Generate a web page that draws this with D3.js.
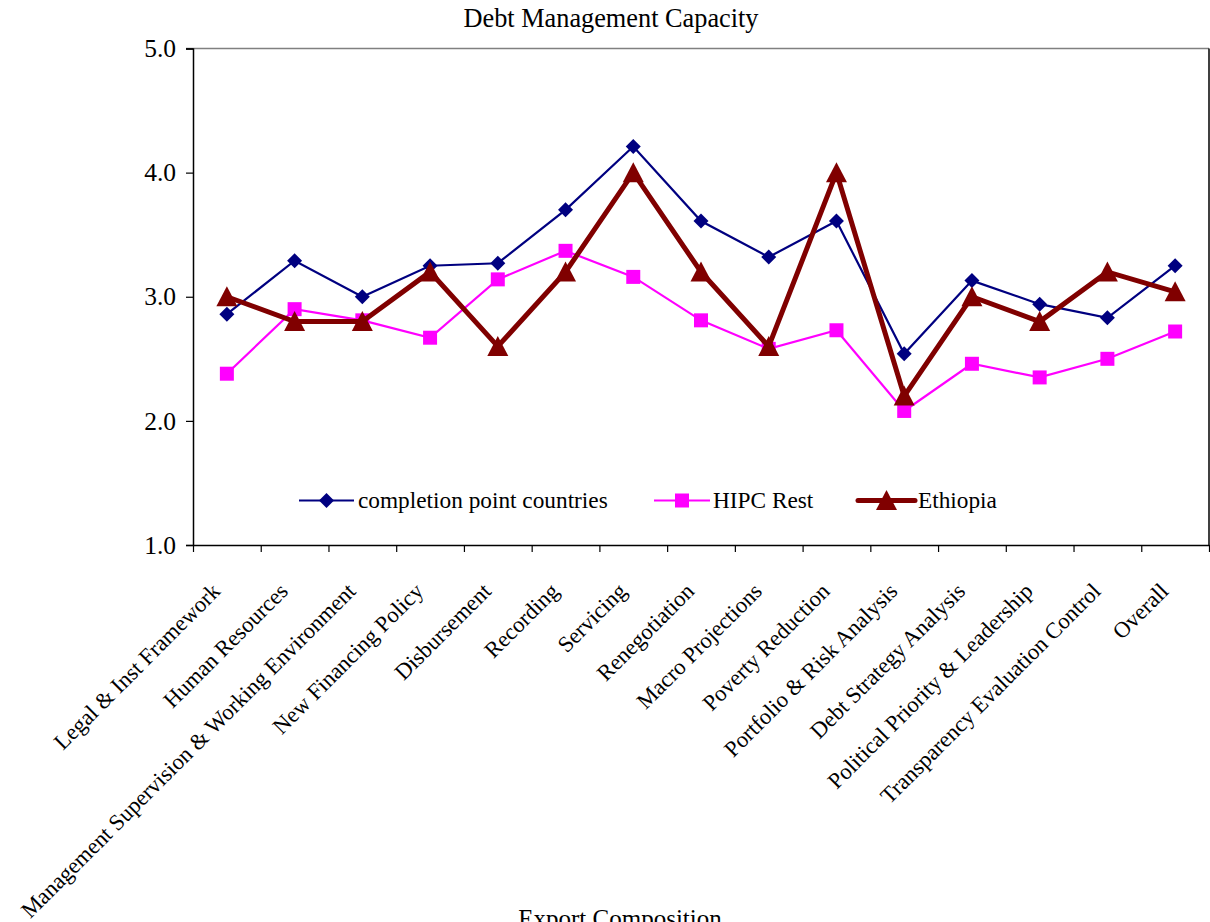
<!DOCTYPE html>
<html>
<head>
<meta charset="utf-8">
<script src="https://cdn.jsdelivr.net/npm/d3@7/dist/d3.min.js"></script>
<style>
  html, body { margin: 0; padding: 0; background: #fff; }
  svg { display: block; }
  text { font-family: "Liberation Serif", "Times New Roman", serif; fill: #000; }
</style>
</head>
<body>
<svg id="chart" width="1210" height="922"></svg>
<script>
const categories = [
  "Legal & Inst Framework", "Human Resources", "Management Supervision & Working Environment",
  "New Financing Policy", "Disbursement", "Recording", "Servicing", "Renegotiation",
  "Macro Projections", "Poverty Reduction", "Portfolio & Risk Analysis",
  "Debt Strategy Analysis", "Political Priority & Leadership",
  "Transparency Evaluation Control", "Overall"
];
const completionPoint = [2.86, 3.29, 3.00, 3.25, 3.27, 3.70, 4.21, 3.61, 3.32, 3.61, 2.54, 3.13, 2.94, 2.83, 3.25];
const hipcRest        = [2.38, 2.90, 2.81, 2.67, 3.14, 3.37, 3.16, 2.81, 2.58, 2.73, 2.08, 2.46, 2.35, 2.50, 2.72];
const ethiopia        = [3.00, 2.80, 2.80, 3.20, 2.60, 3.20, 4.00, 3.20, 2.60, 4.00, 2.20, 3.00, 2.80, 3.20, 3.04];
const yTicks = [1, 2, 3, 4, 5];
const seriesNames = ["completion point countries", "HIPC Rest", "Ethiopia"];

const svg = d3.select("#chart");
const L = 193, R = 1209, T = 48.5, B = 545;

const x = d3.scaleBand().domain(categories).range([L, R]).padding(0);
const xEdge = d3.scaleLinear().domain([0, categories.length]).range([L, R]);
const y = d3.scaleLinear().domain([1, 5]).range([B, T]);
const cx = c => x(c) + x.bandwidth() / 2;

// Plot border (top gray, right black)
svg.append("line").attr("x1", L - 7).attr("x2", R).attr("y1", T).attr("y2", T)
  .attr("stroke", "#808080").attr("stroke-width", 1.5);
svg.append("line").attr("x1", R).attr("x2", R).attr("y1", T).attr("y2", B)
  .attr("stroke", "#000").attr("stroke-width", 1.5);

// Y axis
const yAxis = d3.axisLeft(y).tickValues(yTicks).tickFormat(d3.format(".1f")).tickSize(7).tickPadding(10);
const gy = svg.append("g").attr("transform", `translate(${L},0)`).call(yAxis);
gy.select(".domain").attr("stroke", "#000").attr("stroke-width", 1.5);
gy.selectAll(".tick line").attr("stroke", "#000").attr("stroke-width", 1.2);
gy.selectAll(".tick text").attr("font-size", 25.5).style("font-family", "Liberation Serif").attr("fill", "#000");

// X axis (tick marks at category boundaries)
const xAxis = d3.axisBottom(xEdge).tickValues(d3.range(categories.length + 1)).tickFormat("").tickSize(7).tickSizeOuter(0);
const gx = svg.append("g").attr("transform", `translate(0,${B})`).call(xAxis);
gx.select(".domain").attr("stroke", "#000").attr("stroke-width", 1.5);
gx.selectAll(".tick line").attr("stroke", "#000").attr("stroke-width", 1.2);

// X labels rotated
svg.append("g").selectAll("text").data(categories).join("text")
  .attr("transform", d => `translate(${cx(d) - 11},${B + 42}) rotate(-45)`)
  .attr("text-anchor", "end")
  .attr("dy", "0.35em")
  .attr("font-size", 22.6)
  .text(d => d);

// Title
svg.append("text").attr("x", 611).attr("y", 27).attr("text-anchor", "middle")
  .attr("font-size", 26.3).text("Debt Management Capacity");

// X axis title
svg.append("text").attr("x", 620).attr("y", 927).attr("text-anchor", "middle")
  .attr("font-size", 25).text("Export Composition");

// Markers
const diamondPath = "M0,-7.5L7.5,0L0,7.5L-7.5,0Z";
const squarePath = "M-7,-7L7,-7L7,7L-7,7Z";
const trianglePath = "M0,-10.5L10.5,9.5L-10.5,9.5Z";

const series = [
  { name: seriesNames[0], values: completionPoint, color: "#000080", width: 2.2, marker: diamondPath },
  { name: seriesNames[1], values: hipcRest, color: "#FF00FF", width: 2.2, marker: squarePath },
  { name: seriesNames[2], values: ethiopia, color: "#800000", width: 5, marker: trianglePath }
];

const line = d3.line().x((d, i) => cx(categories[i])).y(d => y(d));

series.forEach(s => {
  const g = svg.append("g");
  g.append("path").datum(s.values).attr("d", line)
    .attr("fill", "none").attr("stroke", s.color).attr("stroke-width", s.width)
    .attr("stroke-linejoin", "miter");
  g.selectAll("path.m").data(s.values).join("path").attr("class", "m")
    .attr("transform", (d, i) => `translate(${cx(categories[i])},${y(d)})`)
    .attr("d", s.marker).attr("fill", s.color);
});

// Legend
const legendY = 500.5;
const legendItems = [
  { s: series[0], x1: 299, x2: 354, tx: 358 },
  { s: series[1], x1: 654, x2: 710, tx: 713 },
  { s: series[2], x1: 858, x2: 915, tx: 918 }
];
legendItems.forEach(it => {
  const g = svg.append("g");
  g.append("line").attr("x1", it.x1).attr("x2", it.x2).attr("y1", legendY).attr("y2", legendY)
    .attr("stroke", it.s.color).attr("stroke-width", it.s.width).attr("stroke-linecap", it.s.width > 3 ? "round" : "butt");
  g.append("path").attr("transform", `translate(${(it.x1 + it.x2) / 2},${legendY})`)
    .attr("d", it.s.marker).attr("fill", it.s.color);
  g.append("text").attr("x", it.tx).attr("y", legendY + 7.5).attr("font-size", 23.3).text(it.s.name);
});
</script>
</body>
</html>
